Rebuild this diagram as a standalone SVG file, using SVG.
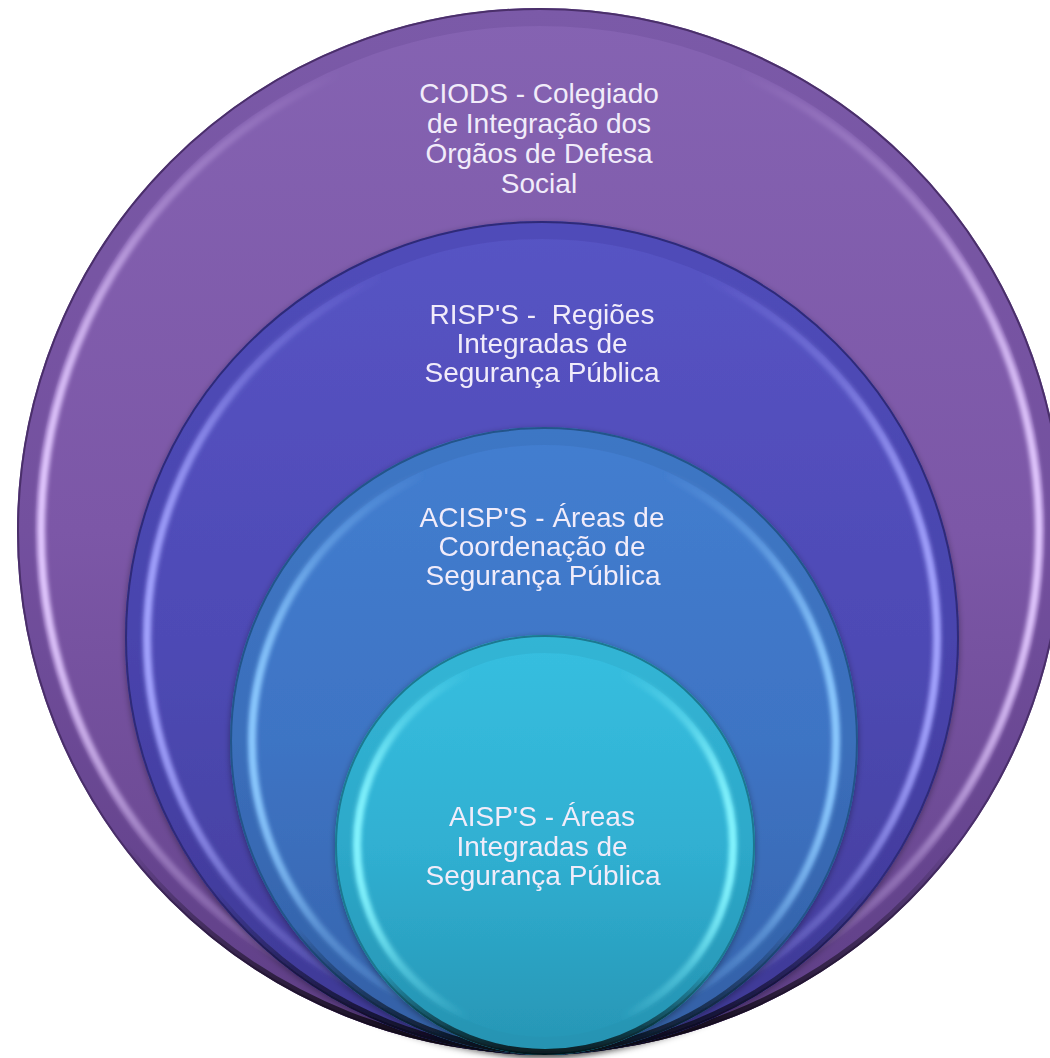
<svg xmlns="http://www.w3.org/2000/svg" width="1050" height="1058" viewBox="0 0 1050 1058">
  <style>
    .lbl { font-family: "Liberation Sans", Arial, sans-serif; font-size: 28px; fill: #f1ecfa; text-anchor: middle; white-space: pre; }
    .hl { fill: none; stroke-width: 8; filter: url(#soft); }
    .rim { fill: none; stroke-width: 18; opacity: 0.18; }
    .edge { fill: none; stroke-width: 2; }
    .shade { fill: none; stroke: url(#bottomShade); stroke-width: 6; }
  </style>
  <defs>
    <filter id="soft" x="-10%" y="-10%" width="120%" height="120%">
      <feGaussianBlur stdDeviation="2"/>
    </filter>
    <filter id="drop" x="-10%" y="-10%" width="120%" height="120%">
      <feDropShadow dx="0" dy="2" stdDeviation="3" flood-color="#000" flood-opacity="0.35"/>
    </filter>
    <linearGradient id="bodyOuter" x1="0" y1="0" x2="0" y2="1">
      <stop offset="0" stop-color="#8563b2"/>
      <stop offset="0.5" stop-color="#7c57a7"/>
      <stop offset="1" stop-color="#634289"/>
    </linearGradient>
    <linearGradient id="bodyRisp" x1="0" y1="0" x2="0" y2="1">
      <stop offset="0" stop-color="#5754c4"/>
      <stop offset="0.5" stop-color="#4e4ab5"/>
      <stop offset="1" stop-color="#423c98"/>
    </linearGradient>
    <linearGradient id="bodyAcisp" x1="0" y1="0" x2="0" y2="1">
      <stop offset="0" stop-color="#437ed0"/>
      <stop offset="0.5" stop-color="#3e74c4"/>
      <stop offset="1" stop-color="#3562aa"/>
    </linearGradient>
    <linearGradient id="bodyAisp" x1="0" y1="0" x2="0" y2="1">
      <stop offset="0" stop-color="#37bfe0"/>
      <stop offset="0.5" stop-color="#30b0d2"/>
      <stop offset="1" stop-color="#2795b4"/>
    </linearGradient>
    <linearGradient id="hlOuter" x1="0" y1="0" x2="1" y2="0">
      <stop offset="0" stop-color="#e2c8ff" stop-opacity="1"/>
      <stop offset="0.12" stop-color="#e2c8ff" stop-opacity="0.35"/>
      <stop offset="0.3" stop-color="#e2c8ff" stop-opacity="0"/>
      <stop offset="0.7" stop-color="#e2c8ff" stop-opacity="0"/>
      <stop offset="0.88" stop-color="#e2c8ff" stop-opacity="0.35"/>
      <stop offset="1" stop-color="#e2c8ff" stop-opacity="1"/>
    </linearGradient>
    <linearGradient id="hlRisp" x1="0" y1="0" x2="1" y2="0">
      <stop offset="0" stop-color="#a4a4ff" stop-opacity="1"/>
      <stop offset="0.12" stop-color="#a4a4ff" stop-opacity="0.4"/>
      <stop offset="0.3" stop-color="#a4a4ff" stop-opacity="0"/>
      <stop offset="0.7" stop-color="#a4a4ff" stop-opacity="0"/>
      <stop offset="0.88" stop-color="#a4a4ff" stop-opacity="0.4"/>
      <stop offset="1" stop-color="#a4a4ff" stop-opacity="1"/>
    </linearGradient>
    <linearGradient id="hlAcisp" x1="0" y1="0" x2="1" y2="0">
      <stop offset="0" stop-color="#8ccaff" stop-opacity="1"/>
      <stop offset="0.12" stop-color="#8ccaff" stop-opacity="0.4"/>
      <stop offset="0.3" stop-color="#8ccaff" stop-opacity="0"/>
      <stop offset="0.7" stop-color="#8ccaff" stop-opacity="0"/>
      <stop offset="0.88" stop-color="#8ccaff" stop-opacity="0.4"/>
      <stop offset="1" stop-color="#8ccaff" stop-opacity="1"/>
    </linearGradient>
    <linearGradient id="hlAisp" x1="0" y1="0" x2="1" y2="0">
      <stop offset="0" stop-color="#86f6ff" stop-opacity="1"/>
      <stop offset="0.12" stop-color="#86f6ff" stop-opacity="0.4"/>
      <stop offset="0.3" stop-color="#86f6ff" stop-opacity="0"/>
      <stop offset="0.7" stop-color="#86f6ff" stop-opacity="0"/>
      <stop offset="0.88" stop-color="#86f6ff" stop-opacity="0.4"/>
      <stop offset="1" stop-color="#86f6ff" stop-opacity="1"/>
    </linearGradient>
    <linearGradient id="bottomShade" x1="0" y1="0" x2="0" y2="1">
      <stop offset="0" stop-color="#000" stop-opacity="0"/>
      <stop offset="0.8" stop-color="#000" stop-opacity="0"/>
      <stop offset="1" stop-color="#000" stop-opacity="0.8"/>
    </linearGradient>
  </defs>

  <g id="ciods">
    <circle cx="540" cy="531" r="523" fill="url(#bodyOuter)"/>
    <circle class="rim" cx="540" cy="531" r="514" stroke="#4e3378"/>
    <circle class="hl" cx="540" cy="531" r="499" stroke="url(#hlOuter)"/>
    <circle class="edge" cx="540" cy="531" r="522" stroke="#4a2f6a"/>
    <circle class="shade" cx="540" cy="531" r="520"/>
    <text class="lbl" x="539" y="103">CIODS - Colegiado</text>
    <text class="lbl" x="539" y="133">de Integração dos</text>
    <text class="lbl" x="539" y="163">Órgãos de Defesa</text>
    <text class="lbl" x="539" y="193">Social</text>
  </g>

  <g id="risps" filter="url(#drop)">
    <circle cx="542" cy="638" r="417" fill="url(#bodyRisp)"/>
    <circle class="rim" cx="542" cy="638" r="408" stroke="#332e88"/>
    <circle class="hl" cx="542" cy="638" r="395" stroke="url(#hlRisp)"/>
    <circle class="edge" cx="542" cy="638" r="416" stroke="#2f2a78"/>
    <circle class="shade" cx="542" cy="638" r="414"/>
    <text class="lbl" x="542" y="324" xml:space="preserve">RISP'S -  Regiões</text>
    <text class="lbl" x="542" y="353">Integradas de</text>
    <text class="lbl" x="542" y="382">Segurança Pública</text>
  </g>

  <g id="acisps" filter="url(#drop)">
    <circle cx="544" cy="741" r="314" fill="url(#bodyAcisp)"/>
    <circle class="rim" cx="544" cy="741" r="305" stroke="#2a5898"/>
    <circle class="hl" cx="544" cy="741" r="292" stroke="url(#hlAcisp)"/>
    <circle class="edge" cx="544" cy="741" r="313" stroke="#24548a"/>
    <circle class="shade" cx="544" cy="741" r="311"/>
    <text class="lbl" x="542" y="527">ACISP'S - Áreas de</text>
    <text class="lbl" x="542" y="556">Coordenação de</text>
    <text class="lbl" x="543" y="585">Segurança Pública</text>
  </g>

  <g id="aisps" filter="url(#drop)">
    <circle cx="545" cy="845" r="210" fill="url(#bodyAisp)"/>
    <circle class="rim" cx="545" cy="845" r="201" stroke="#1f8aa6"/>
    <circle class="hl" cx="545" cy="845" r="188" stroke="url(#hlAisp)"/>
    <circle class="edge" cx="545" cy="845" r="209" stroke="#1b7890"/>
    <circle class="shade" cx="545" cy="845" r="207"/>
    <text class="lbl" x="542" y="826">AISP'S - Áreas</text>
    <text class="lbl" x="542" y="856">Integradas de</text>
    <text class="lbl" x="543" y="885">Segurança Pública</text>
  </g>

  <g id="connectors"/>
</svg>
